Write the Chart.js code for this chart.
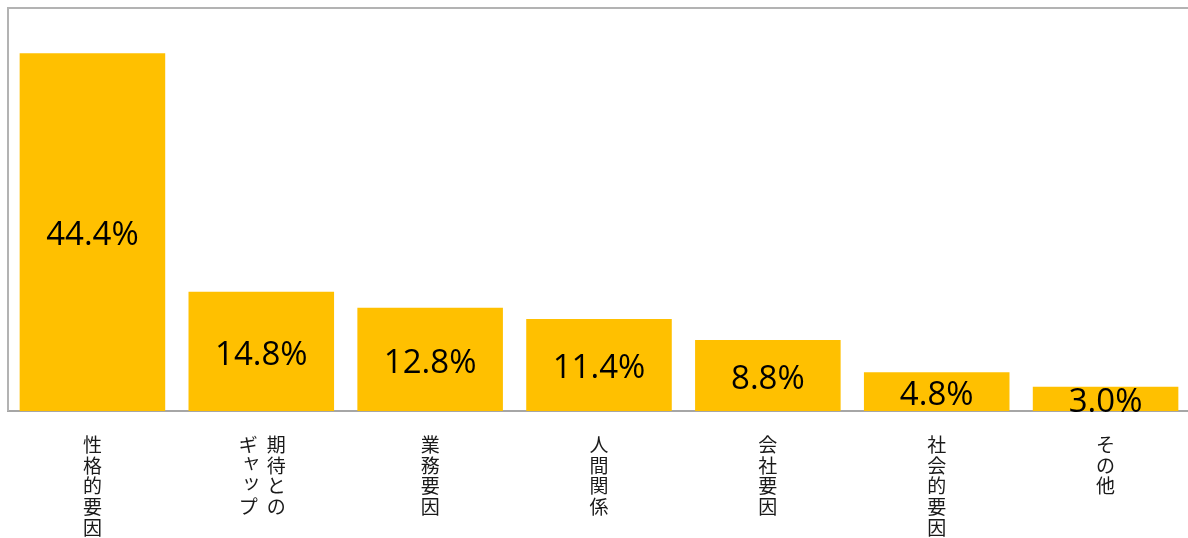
<!DOCTYPE html>
<html><head><meta charset="utf-8">
<script src="https://cdn.jsdelivr.net/npm/chart.js@4/dist/chart.umd.min.js"></script>
<style>html,body{margin:0;padding:0;background:#fff;overflow:hidden;}#wrap{width:1188px;height:538px;overflow:hidden;}</style>
</head><body><div id="wrap"><canvas id="c" width="1190" height="538"></canvas></div>
<script>
const categories = ["性格的要因", "期待とのギャップ", "業務要因", "人間関係", "会社要因", "社会的要因", "その他"];
const labelColumns = [["性格的要因"], ["期待との", "ギャップ"], ["業務要因"], ["人間関係"], ["会社要因"], ["社会的要因"], ["その他"]];
const values = [44.4, 14.8, 12.8, 11.4, 8.8, 4.8, 3.0];
const yMax = 50;

const decor = {
  id: 'decor',
  afterDatasetsDraw(chart) {
    const ctx = chart.ctx, a = chart.chartArea, x = chart.scales.x;
    ctx.save();
    ctx.strokeStyle = '#B3B3B3'; ctx.lineWidth = 2;
    ctx.beginPath(); ctx.moveTo(a.left, a.bottom); ctx.lineTo(a.left, a.top); ctx.lineTo(1190, a.top); ctx.stroke();
    const meta = chart.getDatasetMeta(0);
    ctx.fillStyle = '#000'; ctx.font = '33px "Open Sans"'; ctx.textAlign = 'center'; ctx.textBaseline = 'middle';
    meta.data.forEach((bar, i) => {
      const yc = (bar.y + bar.base) / 2;
      ctx.fillText(values[i].toFixed(1) + '%', bar.x, yc + 4);
    });
    ctx.fillStyle = '#1a1a1a'; ctx.font = '19px "Noto Sans CJK JP"';
    labelColumns.forEach((cols, i) => {
      const cx = x.getPixelForValue(i);
      const n = cols.length;
      cols.forEach((col, j) => {
        const colX = cx + ((n - 1) / 2 - j) * 28 + (n > 1 ? 1 : 0);
        [...col].forEach((ch, k) => {
          let dx = 0, dy = 0;
          if ('ャュョッァィゥェォ'.includes(ch)) { dx = 3; dy = -4; }
          ctx.fillText(ch, colX + dx, 445 + k * 20.6 + dy);
        });
      });
    });
    ctx.restore();
  }
};

new Chart(document.getElementById('c'), {
  type: 'bar',
  data: { labels: categories, datasets: [{ data: values, backgroundColor: '#FFC000', borderWidth: 0, barPercentage: 0.862, categoryPercentage: 1 }] },
  options: {
    responsive: false, animation: false, devicePixelRatio: 1,
    layout: { padding: { left: 8, top: 8, right: 0, bottom: 127 } },
    plugins: { legend: { display: false }, tooltip: { enabled: false } },
    scales: {
      x: { offset: true, ticks: { display: false }, grid: { display: false, drawTicks: false }, border: { display: true, color: '#A6A6A6', width: 2 } },
      y: { display: false, min: 0, max: yMax }
    }
  },
  plugins: [decor]
});
</script></body></html>
